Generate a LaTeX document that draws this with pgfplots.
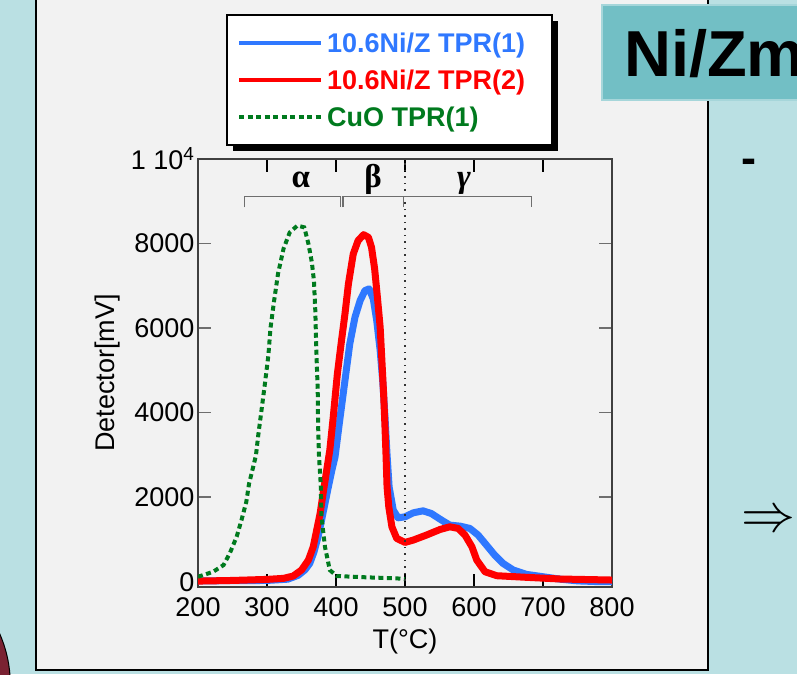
\documentclass[border=0pt]{standalone}
\usepackage{pgfplots}
\pgfplotsset{compat=1.18}
\usepackage{fontspec}
\setmainfont{Liberation Sans}
\newfontfamily\greekfont{Liberation Serif}
\definecolor{bgteal}{HTML}{BAE0E3}
\definecolor{panel}{HTML}{F2F2F2}
\definecolor{titlebox}{HTML}{72BFC5}
\definecolor{titleedge}{HTML}{A6D6DA}
\definecolor{cblue}{HTML}{2F78FF}
\definecolor{cred}{HTML}{FF0000}
\definecolor{cgreen}{HTML}{007A1E}
\definecolor{maroon}{HTML}{7A2232}
\definecolor{axgray}{HTML}{6E6E6E}
\begin{document}
\begin{tikzpicture}
\useasboundingbox (0,0) rectangle (797pt,-674pt);
\clip (0,0) rectangle (797pt,-674pt);
\fill[bgteal] (0,0) rectangle (797pt,-674pt);
\filldraw[fill=maroon, draw=black, line width=1pt] (-2pt,-630pt) .. controls (5pt,-645pt) and (9pt,-660pt) .. (10pt,-676pt) -- (-2pt,-676pt) -- cycle;
\filldraw[fill=panel, draw=black, line width=2pt] (36pt,10pt) rectangle (708pt,-670pt);
\filldraw[fill=titlebox, draw=titleedge, line width=1.5pt] (602pt,-5pt) rectangle (810pt,-100pt);
\node[anchor=base west, inner sep=0pt, font=\fontsize{65}{70}\selectfont\bfseries] at (624pt,-77pt) {Ni/Zm};
\node[font=\fontsize{45}{50}\selectfont\bfseries, inner sep=0pt] at (749pt,-166pt) {-};
\node[inner sep=0pt] at (768pt,-522pt) {\scalebox{5.4}{$\Rightarrow$}};
% legend frame with shadow
\fill[black] (233pt,-21pt) rectangle (558pt,-151pt);
\filldraw[fill=white, draw=black, line width=2pt] (227pt,-15pt) rectangle (552pt,-145pt);

\begin{axis}[
  scale only axis, width=414pt, height=428pt,
  at={(198pt,-587pt)}, anchor=south west,
  xmin=200, xmax=800, ymin=-125, ymax=10000,
  xtick={200,300,...,800},
  ytick={0,2000,4000,6000,8000,10000},
  yticklabels={0,2000,4000,6000,8000,{1 10\textsuperscript{4}}},
  scaled y ticks=false, scaled x ticks=false,
  /pgf/number format/assume math mode=true,
  /pgf/number format/1000 sep={},
  tick label style={font=\fontsize{27}{30}\selectfont},
  xticklabel style={yshift=-7pt},
  label style={font=\fontsize{27}{30}\selectfont},
  xlabel={T(°C)},
  ylabel={Detector[mV]},
  xlabel style={at={(axis description cs:0.5,-0.1285)}, anchor=center},
  ylabel style={at={(axis description cs:-0.2174,0.5)}, anchor=center},
  tick align=inside,
  major tick length=13pt,
  axis line style={draw=black!75, line width=1.5pt},
  xtick style={black, line width=1.2pt},
  ytick style={axgray, line width=1.5pt},
  legend style={at={(axis description cs:0.070,1.3364)}, anchor=north west,
    draw=none, fill=none,
    inner xsep=10pt, inner ysep=9.5pt, row sep=0pt, column sep=0pt,
    nodes={inner xsep=4pt, inner ysep=8pt},
    font=\fontsize{27}{30}\selectfont\bfseries},
  legend cell align=left,
  legend image code/.code={\draw[#1, line width=4pt] (0pt,0pt) -- (82pt,0pt);},
]
\addplot[cblue, line width=7pt, line join=round] coordinates {
(200,20) (250,25) (300,30) (330,60) (345,150) (355,280) (362,434) (368,700)
(374,1063) (379,1450) (384,1851) (389,2250) (394,2637) (398.6,2952) (406,3896)
(413,4763) (420,5629) (427.5,6257) (435,6652) (442,6888) (448,6928) (454,6692)
(459,6180) (464,5471) (468,4685) (471,3896) (474,3000) (477,2243) (483,1693)
(490,1512) (500,1535) (512,1630) (526,1677) (538,1615) (553,1457) (565,1339)
(580,1315) (594,1261) (606,1103) (618,867) (630,630) (642,434) (657,276)
(676,174) (700,118) (725,60) (750,20) (775,5) (800,0)
};
\addlegendentry{\textcolor{cblue}{10.6Ni/Z TPR(1)}}
\addplot[cred, line width=7pt, line join=round] coordinates {
(200,15) (250,30) (300,55) (324,80) (338,135) (350,276) (360,512) (367,826)
(372,1221) (377,1615) (382,2165) (386.5,2637) (391,3110) (396,3896) (402,4921)
(408,5707) (413,6338) (418,7046) (425,7754) (432,8069) (440,8210) (447,8147)
(451.5,7910) (456,7400) (460,6730) (464,6021) (466.5,5235) (469,4449) (471,3660)
(472.5,3000) (474,2243) (476.5,1771) (481,1299) (488,1025) (500,930) (512,985)
(531,1103) (551,1237) (565,1299) (577,1261) (587,1103) (597,826) (604,512)
(616,236) (633,142) (676,104) (725,64) (800,40)
};
\addlegendentry{\textcolor{cred}{10.6Ni/Z TPR(2)}}
\addplot[cgreen, line width=4pt, dash pattern=on 5pt off 3.5pt] coordinates {
(200,118) (210,170) (222,236) (237,394) (246,670) (256,1063) (263,1457)
(270,1889) (274,2323) (280,2716) (284,2992) (287,3424) (292,4054) (297,4690)
(302,5353) (305,5990) (310,6611) (316,7289) (324,7880) (333,8265) (344,8423)
(354,8383) (360,7998) (365,7556) (368,7124) (370,6416) (371,5785) (372,5235)
(373.5,4527) (374,3747) (375.4,2952) (377.8,2323) (379,1535) (384,826)
(391,276) (401,135) (444,104) (488,80) (500,60)
};
\addlegendentry{\textcolor{cgreen}{CuO TPR(1)}}
\draw[black!80, line width=1.3pt, dash pattern=on 1.5pt off 5pt] (axis cs:500,-125) -- (axis cs:500,10000);
\draw[axgray, line width=1.3pt] (axis cs:267,8855) -- (axis cs:267,9107) -- (axis cs:407,9107) -- (axis cs:407,8855);
\draw[axgray, line width=1.3pt] (axis cs:410,8855) -- (axis cs:410,9107) -- (axis cs:497.5,9107) -- (axis cs:497.5,8855);
\draw[axgray, line width=1.3pt] (axis cs:497.5,9107) -- (axis cs:683.6,9107) -- (axis cs:683.6,8855);
\node[anchor=base, font=\greekfont\bfseries\fontsize{33}{35}\selectfont] at (axis cs:349,9320) {α};
\node[anchor=base, font=\greekfont\bfseries\fontsize{33}{35}\selectfont] at (axis cs:453.6,9320) {β};
\node[anchor=base, font=\greekfont\bfseries\itshape\fontsize{33}{35}\selectfont] at (axis cs:585.5,9320) {γ};
\end{axis}
\end{tikzpicture}
\end{document}
